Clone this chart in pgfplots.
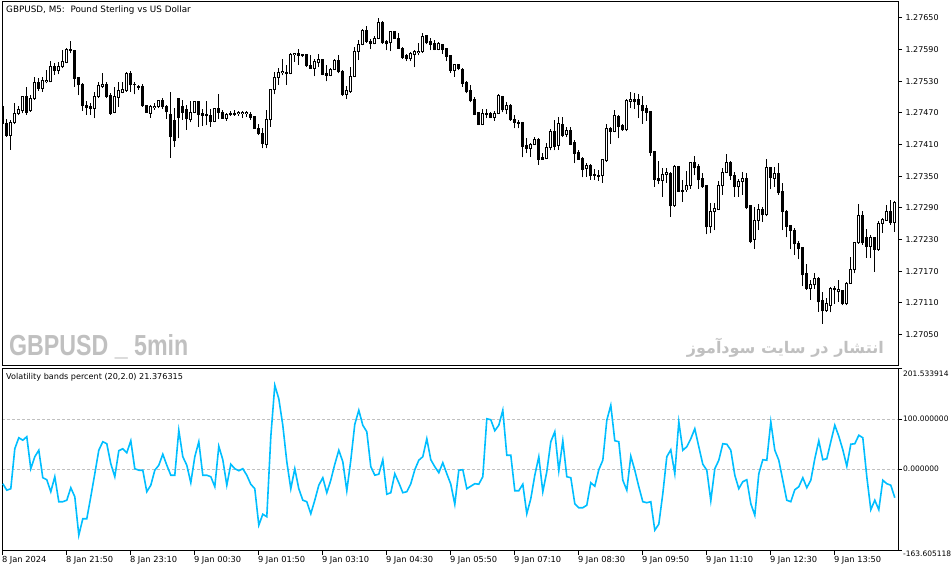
\documentclass[border=0pt]{standalone}
\usepackage{pgfplots}
\pgfplotsset{compat=1.18}
\usepgfplotslibrary{groupplots}
\usepackage{pgfplotstable}
\usepackage{fontspec}
\setmainfont{DejaVu Sans}
\newfontfamily\wmfont{Liberation Sans}
\newfontfamily\farsifont[Script=Arabic]{DejaVu Sans}
\TeXXeTstate=1

\definecolor{vbline}{RGB}{0,190,255}
\definecolor{wmgray}{RGB}{192,192,192}
\definecolor{gridgray}{RGB}{192,192,192}

% GBPUSD M5 candles: bar, open, high, low, close
\pgfplotstableread{
i o h l c
0 1.27482 1.27485 1.27449 1.27450
1 1.27450 1.27459 1.27425 1.27428
2 1.27428 1.27457 1.27400 1.27452
3 1.27452 1.27488 1.27449 1.27469
4 1.27469 1.27484 1.27466 1.27476
5 1.27474 1.27502 1.27469 1.27501
6 1.27501 1.27520 1.27467 1.27471
7 1.27474 1.27504 1.27472 1.27498
8 1.27498 1.27539 1.27495 1.27528
9 1.27528 1.27536 1.27512 1.27517
10 1.27517 1.27539 1.27510 1.27531
11 1.27529 1.27551 1.27526 1.27531
12 1.27529 1.27568 1.27528 1.27558
13 1.27558 1.27564 1.27542 1.27550
14 1.27550 1.27567 1.27543 1.27558
15 1.27558 1.27589 1.27555 1.27567
16 1.27566 1.27593 1.27564 1.27591
17 1.27591 1.27606 1.27583 1.27589
18 1.27589 1.27590 1.27520 1.27536
19 1.27537 1.27539 1.27504 1.27523
20 1.27524 1.27526 1.27474 1.27484
21 1.27485 1.27492 1.27467 1.27480
22 1.27482 1.27488 1.27467 1.27479
23 1.27479 1.27509 1.27460 1.27502
24 1.27501 1.27528 1.27498 1.27522
25 1.27520 1.27545 1.27517 1.27524
26 1.27523 1.27529 1.27498 1.27501
27 1.27503 1.27507 1.27467 1.27469
28 1.27471 1.27520 1.27469 1.27501
29 1.27500 1.27529 1.27482 1.27512
30 1.27509 1.27529 1.27507 1.27514
31 1.27512 1.27547 1.27510 1.27545
32 1.27545 1.27550 1.27510 1.27523
33 1.27523 1.27529 1.27505 1.27522
34 1.27521 1.27523 1.27514 1.27519
35 1.27521 1.27524 1.27482 1.27484
36 1.27484 1.27486 1.27470 1.27471
37 1.27469 1.27485 1.27461 1.27483
38 1.27481 1.27488 1.27476 1.27483
39 1.27482 1.27495 1.27479 1.27493
40 1.27493 1.27499 1.27478 1.27482
41 1.27482 1.27485 1.27459 1.27472
42 1.27468 1.27509 1.27385 1.27425
43 1.27455 1.27479 1.27406 1.27417
44 1.27497 1.27499 1.27422 1.27461
45 1.27483 1.27495 1.27457 1.27471
46 1.27476 1.27485 1.27438 1.27459
47 1.27457 1.27493 1.27452 1.27471
48 1.27471 1.27493 1.27469 1.27492
49 1.27492 1.27493 1.27444 1.27468
50 1.27469 1.27478 1.27446 1.27466
51 1.27467 1.27493 1.27447 1.27465
52 1.27466 1.27478 1.27444 1.27454
53 1.27454 1.27480 1.27452 1.27479
54 1.27478 1.27505 1.27459 1.27471
55 1.27471 1.27476 1.27459 1.27460
56 1.27460 1.27469 1.27455 1.27468
57 1.27469 1.27474 1.27465 1.27467
58 1.27468 1.27476 1.27465 1.27469
59 1.27469 1.27474 1.27465 1.27471
60 1.27469 1.27474 1.27461 1.27471
61 1.27469 1.27474 1.27463 1.27471
62 1.27468 1.27472 1.27457 1.27462
63 1.27463 1.27464 1.27440 1.27441
64 1.27441 1.27449 1.27428 1.27431
65 1.27431 1.27441 1.27403 1.27413
66 1.27411 1.27476 1.27403 1.27457
67 1.27457 1.27516 1.27444 1.27514
68 1.27514 1.27547 1.27505 1.27537
69 1.27537 1.27556 1.27523 1.27547
70 1.27546 1.27572 1.27541 1.27548
71 1.27547 1.27561 1.27523 1.27545
72 1.27545 1.27583 1.27543 1.27581
73 1.27580 1.27583 1.27567 1.27582
74 1.27582 1.27591 1.27561 1.27579
75 1.27581 1.27582 1.27576 1.27578
76 1.27581 1.27582 1.27557 1.27559
77 1.27560 1.27579 1.27554 1.27555
78 1.27555 1.27573 1.27540 1.27567
79 1.27565 1.27581 1.27557 1.27572
80 1.27571 1.27572 1.27541 1.27543
81 1.27545 1.27560 1.27530 1.27541
82 1.27541 1.27555 1.27540 1.27553
83 1.27553 1.27572 1.27551 1.27569
84 1.27569 1.27579 1.27545 1.27548
85 1.27549 1.27551 1.27503 1.27505
86 1.27505 1.27521 1.27496 1.27512
87 1.27510 1.27557 1.27508 1.27540
88 1.27539 1.27595 1.27538 1.27587
89 1.27587 1.27608 1.27570 1.27600
90 1.27600 1.27629 1.27598 1.27627
91 1.27627 1.27635 1.27603 1.27606
92 1.27606 1.27610 1.27591 1.27601
93 1.27601 1.27616 1.27600 1.27612
94 1.27612 1.27650 1.27610 1.27642
95 1.27642 1.27644 1.27601 1.27603
96 1.27605 1.27608 1.27589 1.27601
97 1.27603 1.27625 1.27587 1.27624
98 1.27624 1.27625 1.27611 1.27612
99 1.27612 1.27622 1.27592 1.27593
100 1.27593 1.27595 1.27573 1.27576
101 1.27578 1.27582 1.27568 1.27573
102 1.27573 1.27586 1.27568 1.27582
103 1.27581 1.27589 1.27557 1.27586
104 1.27584 1.27603 1.27579 1.27586
105 1.27586 1.27622 1.27584 1.27614
106 1.27616 1.27617 1.27600 1.27603
107 1.27605 1.27612 1.27589 1.27600
108 1.27601 1.27608 1.27589 1.27591
109 1.27591 1.27605 1.27589 1.27601
110 1.27600 1.27601 1.27582 1.27591
111 1.27592 1.27593 1.27568 1.27577
112 1.27578 1.27580 1.27546 1.27551
113 1.27550 1.27563 1.27539 1.27561
114 1.27561 1.27563 1.27551 1.27555
115 1.27553 1.27555 1.27520 1.27526
116 1.27527 1.27531 1.27507 1.27510
117 1.27512 1.27523 1.27490 1.27493
118 1.27495 1.27501 1.27466 1.27468
119 1.27471 1.27472 1.27447 1.27449
120 1.27449 1.27477 1.27447 1.27469
121 1.27468 1.27477 1.27460 1.27469
122 1.27469 1.27472 1.27460 1.27461
123 1.27461 1.27474 1.27455 1.27469
124 1.27469 1.27506 1.27468 1.27504
125 1.27502 1.27503 1.27471 1.27476
126 1.27476 1.27490 1.27468 1.27485
127 1.27485 1.27487 1.27455 1.27457
128 1.27458 1.27467 1.27441 1.27452
129 1.27452 1.27457 1.27441 1.27450
130 1.27452 1.27453 1.27386 1.27407
131 1.27409 1.27422 1.27394 1.27403
132 1.27403 1.27414 1.27387 1.27411
133 1.27411 1.27424 1.27409 1.27420
134 1.27420 1.27422 1.27372 1.27382
135 1.27385 1.27394 1.27381 1.27382
136 1.27384 1.27414 1.27382 1.27405
137 1.27405 1.27439 1.27399 1.27435
138 1.27435 1.27457 1.27399 1.27407
139 1.27409 1.27463 1.27400 1.27450
140 1.27449 1.27463 1.27424 1.27428
141 1.27430 1.27444 1.27424 1.27437
142 1.27437 1.27444 1.27409 1.27411
143 1.27414 1.27418 1.27375 1.27394
144 1.27396 1.27399 1.27381 1.27382
145 1.27384 1.27386 1.27348 1.27363
146 1.27365 1.27376 1.27349 1.27370
147 1.27370 1.27373 1.27343 1.27351
148 1.27352 1.27363 1.27343 1.27351
149 1.27351 1.27361 1.27342 1.27349
150 1.27352 1.27383 1.27338 1.27381
151 1.27379 1.27450 1.27378 1.27440
152 1.27440 1.27444 1.27412 1.27435
153 1.27435 1.27476 1.27433 1.27466
154 1.27464 1.27466 1.27422 1.27444
155 1.27446 1.27449 1.27436 1.27438
156 1.27438 1.27497 1.27435 1.27493
157 1.27492 1.27510 1.27479 1.27495
158 1.27495 1.27507 1.27478 1.27492
159 1.27495 1.27505 1.27460 1.27486
160 1.27485 1.27502 1.27450 1.27474
161 1.27478 1.27486 1.27455 1.27471
162 1.27473 1.27474 1.27389 1.27395
163 1.27397 1.27398 1.27330 1.27344
164 1.27345 1.27379 1.27335 1.27342
165 1.27342 1.27365 1.27311 1.27354
166 1.27354 1.27366 1.27338 1.27358
167 1.27356 1.27358 1.27273 1.27294
168 1.27294 1.27371 1.27292 1.27369
169 1.27369 1.27370 1.27321 1.27322
170 1.27324 1.27343 1.27302 1.27322
171 1.27324 1.27360 1.27321 1.27333
172 1.27333 1.27378 1.27326 1.27376
173 1.27376 1.27389 1.27352 1.27366
174 1.27368 1.27373 1.27326 1.27343
175 1.27345 1.27356 1.27328 1.27330
176 1.27332 1.27333 1.27240 1.27254
177 1.27254 1.27299 1.27242 1.27284
178 1.27284 1.27299 1.27248 1.27289
179 1.27288 1.27341 1.27286 1.27332
180 1.27332 1.27365 1.27315 1.27358
181 1.27358 1.27392 1.27356 1.27376
182 1.27376 1.27379 1.27343 1.27351
183 1.27352 1.27358 1.27311 1.27330
184 1.27330 1.27345 1.27311 1.27341
185 1.27340 1.27358 1.27315 1.27345
186 1.27345 1.27356 1.27288 1.27290
187 1.27294 1.27296 1.27223 1.27226
188 1.27231 1.27292 1.27213 1.27266
189 1.27266 1.27298 1.27248 1.27287
190 1.27287 1.27291 1.27264 1.27277
191 1.27277 1.27382 1.27274 1.27367
192 1.27367 1.27368 1.27325 1.27348
193 1.27346 1.27368 1.27330 1.27356
194 1.27356 1.27375 1.27315 1.27319
195 1.27321 1.27337 1.27248 1.27283
196 1.27284 1.27286 1.27234 1.27255
197 1.27256 1.27258 1.27212 1.27247
198 1.27247 1.27252 1.27201 1.27222
199 1.27223 1.27228 1.27193 1.27213
200 1.27215 1.27216 1.27142 1.27163
201 1.27165 1.27184 1.27135 1.27138
202 1.27138 1.27153 1.27116 1.27144
203 1.27144 1.27167 1.27136 1.27157
204 1.27157 1.27159 1.27093 1.27112
205 1.27114 1.27130 1.27071 1.27095
206 1.27095 1.27119 1.27093 1.27108
207 1.27106 1.27140 1.27092 1.27138
208 1.27138 1.27142 1.27108 1.27135
209 1.27131 1.27153 1.27112 1.27135
210 1.27133 1.27135 1.27106 1.27108
211 1.27108 1.27149 1.27106 1.27147
212 1.27147 1.27198 1.27146 1.27174
213 1.27174 1.27226 1.27166 1.27224
214 1.27224 1.27298 1.27222 1.27275
215 1.27275 1.27285 1.27220 1.27224
216 1.27234 1.27250 1.27196 1.27217
217 1.27217 1.27239 1.27195 1.27234
218 1.27234 1.27235 1.27169 1.27212
219 1.27212 1.27266 1.27209 1.27261
220 1.27261 1.27270 1.27243 1.27269
221 1.27267 1.27296 1.27266 1.27283
222 1.27283 1.27305 1.27258 1.27262
223 1.27262 1.27304 1.27245 1.27300
}\candles

% Volatility bands percent (20,2.0), one value per bar
\pgfplotstableread{
i v
0 -29
1 -42
2 -39
3 41
4 63
5 58
6 65
7 1
8 25
9 38
10 -17
11 -21
12 -45
13 -15
14 -65
15 -65
16 -62
17 -37
18 -55
19 -132
20 -99
21 -99
22 -55
23 -9
24 38
25 55
26 51
27 11
28 -15
29 37
30 41
31 33
32 57
33 1
34 -2
35 -2
36 -45
37 -32
38 -2
39 8
40 30
41 8
42 -12
43 -12
44 78
45 25
46 8
47 -27
48 25
49 55
50 -12
51 -12
52 -15
53 -35
54 46
55 19
56 -32
57 10
58 1
59 -3
60 1
61 -12
62 -30
63 -39
64 -112
65 -90
66 -95
67 65
68 168
69 141
70 88
71 15
72 -39
73 1
74 -39
75 -62
76 -65
77 -89
78 -62
79 -32
80 -17
81 -47
82 -22
83 10
84 38
85 15
86 -43
87 18
88 90
89 118
90 88
91 75
92 5
93 -12
94 -10
95 19
96 -50
97 -47
98 -9
99 -27
100 -47
101 -45
102 -29
103 -1
104 18
105 25
106 61
107 19
108 5
109 -7
110 13
111 -9
112 -30
113 -70
114 -2
115 -1
116 -39
117 -34
118 -29
119 -30
120 -15
121 101
122 99
123 77
124 88
125 118
126 28
127 28
128 -43
129 -43
130 -30
131 -89
132 -59
133 -12
134 25
135 -45
136 -5
137 55
138 75
139 -3
140 57
141 -15
142 -17
143 -69
144 -77
145 -77
146 -72
147 -27
148 -34
149 -1
150 18
151 98
152 128
153 57
154 55
155 -22
156 -42
157 26
158 -2
159 -35
160 -65
161 -67
162 -65
163 -122
164 -110
165 -49
166 25
167 39
168 -9
169 95
170 38
171 45
172 61
173 81
174 45
175 10
176 -2
177 -63
178 1
179 18
180 51
181 50
182 38
183 -12
184 -39
185 -25
186 -21
187 -69
188 -92
189 -9
190 19
191 18
192 95
193 38
194 18
195 -22
196 -62
197 -65
198 -41
199 -35
200 -17
201 -37
202 -22
203 21
204 57
205 19
206 21
207 55
208 88
209 66
210 39
211 6
212 50
213 51
214 68
215 63
216 -15
217 -81
218 -62
219 -81
220 -22
221 -29
222 -32
223 -57
}\vbands

\begin{document}
\begin{tikzpicture}
\begin{groupplot}[
    group style={group size=1 by 2, vertical sep=2.5pt},
    scale only axis, width=896pt,
    xmin=-0.2, xmax=223.8,
    clip mode=individual,
    axis line style={line width=1pt},
    ytick pos=right, yticklabel pos=right,
    tick align=outside, major tick length=4pt,
    tick style={black, line width=1pt},
    yticklabel style={font=\fontsize{8}{9}\selectfont},
    candle/.style={only marks, mark=*, mark size=0pt,
        mark options={draw=none, fill=none},
        error bars/y dir=plus, error bars/y explicit, error bars/error mark=none},
]
% price panel
\nextgroupplot[
    height=364pt,
    ymin=1.269905, ymax=1.276803,
    xtick=\empty,
    ytick={1.27050,1.27110,1.27170,1.27230,1.27290,1.27350,1.27410,1.27470,1.27530,1.27590,1.27650},
    yticklabels={1.27050,1.27110,1.27170,1.27230,1.27290,1.27350,1.27410,1.27470,1.27530,1.27590,1.27650},
]
    % wicks
    \addplot[candle, error bars/error bar style={black, line width=1pt}]
        table[x=i, y=l, y error expr={\thisrow{h}-\thisrow{l}}] {\candles};
    % body outline (black)
    \addplot[candle, error bars/error bar style={black, line width=3pt}]
        table[x=i, y expr={min(\thisrow{o},\thisrow{c})-0.0000095},
              y error expr={abs(\thisrow{c}-\thisrow{o})+0.000019}] {\candles};
    % hollow inside of rising candles
    \addplot[candle, error bars/error bar style={white, line width=1pt}]
        table[x=i, y expr={\thisrow{o}+0.0000095},
              y error expr={max(\thisrow{c}-\thisrow{o}-0.000019,0)}] {\candles};

% indicator panel
\nextgroupplot[
    height=182.5pt,
    ymin=-163.605118, ymax=201.533914,
    ytick={0,100}, yticklabels={0.000000,100.000000},
    yticklabel style={font=\fontsize{7.5}{9}\selectfont, inner sep=1pt},
    extra y ticks={-163.605118,201.533914}, extra y tick labels={},
    extra y tick style={grid=none},
    ymajorgrids,
    major grid style={gridgray, line width=1pt, dash pattern=on 3pt off 2pt},
    xtick={0,16,...,208},
    xticklabels={8 Jan 2024,8 Jan 21:50,8 Jan 23:10,9 Jan 00:30,9 Jan 01:50,9 Jan 03:10,9 Jan 04:30,9 Jan 05:50,9 Jan 07:10,9 Jan 08:30,9 Jan 09:50,9 Jan 11:10,9 Jan 12:30,9 Jan 13:50},
    xtick pos=left, xticklabel pos=left,
    xticklabel style={font=\fontsize{8.3}{9}\selectfont, anchor=north west, inner sep=1pt, xshift=-2pt},
]
    \addplot[vbline, line width=1.6pt, mark=none] table[x=i, y=v] {\vbands};
    \coordinate (O) at (rel axis cs:0,0);
    \node[anchor=west, inner sep=0pt, font=\fontsize{7.5}{9}\selectfont] at (rel axis cs:1,1) [xshift=5pt, yshift=-5pt] {201.533914};
    \node[anchor=west, inner sep=0pt, font=\fontsize{7.5}{9}\selectfont] at (rel axis cs:1,0) [xshift=5pt, yshift=-3pt] {-163.605118};
\end{groupplot}

% captions and watermark, placed from the lower left corner of the indicator panel
\node[anchor=west, inner sep=0pt, font=\fontsize{8.8}{10}\selectfont] at ([shift={(4pt,541pt)}]O) {GBPUSD, M5:\ \ Pound Sterling vs US Dollar};
\node[anchor=west, inner sep=0pt, font=\fontsize{8.1}{10}\selectfont] at ([shift={(4pt,174pt)}]O) {Volatility bands percent (20,2.0) 21.376315};
\node[anchor=base west, inner sep=0pt, text=wmgray, xscale=0.80,
      font=\wmfont\bfseries\fontsize{29}{29}\selectfont] at ([shift={(7pt,195pt)}]O) {GBPUSD \_ 5min};
\node[anchor=base east, inner sep=0pt, text=wmgray,
      font=\farsifont\bfseries\fontsize{16}{16}\selectfont] at ([shift={(882pt,197pt)}]O) {\beginR انتشار در سایت سودآموز\endR};

\pgfresetboundingbox
\path[use as bounding box] ([shift={(-2pt,-21pt)}]O) rectangle ([shift={(949pt,551pt)}]O);
\end{tikzpicture}
\end{document}
